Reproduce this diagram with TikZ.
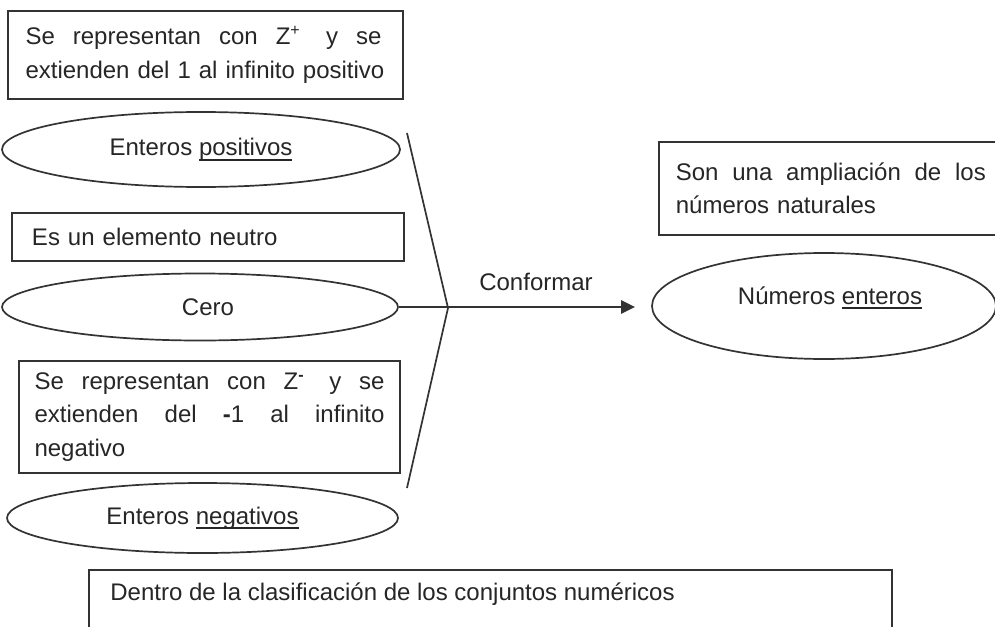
\documentclass[tikz,border=0pt]{standalone}
\usepackage{fontspec}
\setmainfont{Liberation Sans}
\usetikzlibrary{shapes.geometric,arrows.meta}
\definecolor{ink}{HTML}{333333}
\definecolor{txt}{HTML}{262626}
\newsavebox\ulbox
\newcommand{\ulw}[1]{\sbox\ulbox{#1}\rlap{\rule[-2.4pt]{\wd\ulbox}{0.9pt}}\usebox\ulbox}
\newcommand{\jl}[2]{\leavevmode\hbox to #1{\spaceskip=0.278em plus 1fil\relax #2}}
\begin{document}
\begin{tikzpicture}[x=0.5pt,y=-0.5pt,
  every node/.style={font=\fontsize{12}{16.8}\selectfont, text=txt},
  box/.style={draw=ink, line width=0.85pt, rectangle, inner sep=0pt},
  oval/.style={draw=ink, line width=0.85pt, ellipse, inner sep=0pt},
  conn/.style={draw=ink, line width=0.85pt}]
\useasboundingbox (0,0) rectangle (995,626);
\clip (0,0) rectangle (995,626);
\fill[white] (0,0) rectangle (995,626);

\node[box, minimum width=197.5pt, minimum height=44pt, text width=180pt, align=left] (b1) at (205.5,55)
  {\jl{178pt}{Se representan con Z\textsuperscript{+}\hspace{0.3em} y se}\\\mbox{extienden del 1 al infinito positivo}};
\node[oval, minimum width=199pt, minimum height=37.5pt] (e1) at (201,149.5) {Enteros \ulw{positivos}};

\node[box, minimum width=196pt, minimum height=24pt, text width=176pt, align=left] (b2) at (208,237) {Es un elemento neutro};
\node[oval, minimum width=198pt, minimum height=33.5pt] (e2) at (200,307) {\hspace{8pt}Cero};

\node[box, minimum width=190.5pt, minimum height=56pt, text width=175pt, align=left] (b3) at (209.5,417)
  {\jl{175pt}{Se representan con Z\textsuperscript{\textbf{-}}\hspace{0.3em} y se}\\\jl{175pt}{extienden del \textbf{-}1 al infinito}\\negativo};
\node[oval, minimum width=195.5pt, minimum height=35pt] (e3) at (202.5,518) {Enteros \ulw{negativos}};

\node[box, anchor=north west, minimum width=401.5pt, minimum height=45pt] (b4) at (88,569) {};
\node[anchor=west, inner sep=0pt] (t4) at (110,594) {Dentro de la clasificación de los conjuntos numéricos};

\node[box, anchor=north west, inner xsep=8.5pt, minimum height=46.5pt, text width=156pt, align=left] (b5) at (658,141)
  {\jl{155pt}{Son una ampliación de los}\\números naturales};
\node[oval, minimum width=172pt, minimum height=53pt,
  label={[xshift=3pt, yshift=4pt]center:Números \ulw{enteros}}] (ne) at (824,306) {};

\coordinate (vt) at (407,133);
\coordinate (vj) at (448,308);
\coordinate (vb) at (407,488);
\draw[conn] (vt) -- (vj) -- (vb);
\draw[conn, line width=1.3pt, -{Triangle[length=7pt,width=6.5pt]}, shorten >=8pt] (e2.east) -- (e2.east -| ne.west);
\node (lab) at (536,282) {Conformar};
\end{tikzpicture}
\end{document}
